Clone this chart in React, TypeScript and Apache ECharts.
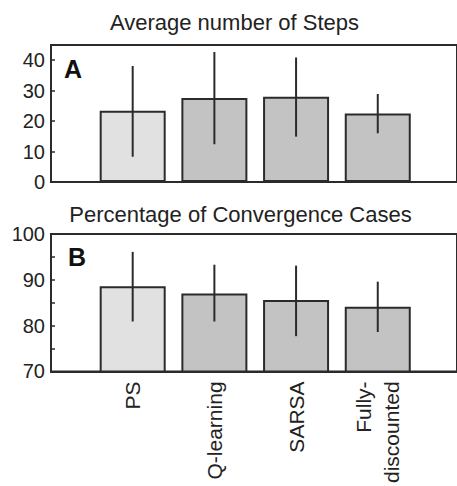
import React, { useEffect, useRef } from "react";
import * as echarts from "echarts";

const categories = ["PS", "Q-learning", "SARSA", "Fully-\ndiscounted"];
const stepsMean = [23.4, 27.6, 28.0, 22.5];
const stepsLow = [8.3, 12.4, 14.9, 16.0];
const stepsHigh = [38.1, 42.7, 40.9, 28.9];
const convMean = [88.6, 87.0, 85.6, 84.1];
const convLow = [80.9, 80.9, 77.7, 78.6];
const convHigh = [96.1, 93.3, 93.1, 89.6];
const barColors = ["#e1e1e1", "#c2c3c2", "#c2c3c2", "#c2c3c2"];

const FONT = "Liberation Sans";
const DARK = "#2b2b2b";

export default function App() {
  const ref = useRef<HTMLDivElement>(null);
  useEffect(() => {
    if (!ref.current) return;
    const chart = echarts.init(ref.current, null, { renderer: "svg" });

    const barData = (vals: number[]) =>
      vals.map((v, i) => ({
        value: [i + 1, v],
        itemStyle: { color: barColors[i], borderColor: DARK, borderWidth: 2 },
      }));
    const errData = (lo: number[], hi: number[]) => lo.map((l, i) => [i + 1, l, hi[i]]);
    const renderErr = (params: any, api: any) => {
      const a = api.coord([api.value(0), api.value(1)]);
      const b = api.coord([api.value(0), api.value(2)]);
      return {
        type: "line",
        shape: { x1: a[0], y1: a[1], x2: b[0], y2: b[1] },
        style: { stroke: DARK, lineWidth: 2 },
      };
    };

    const xAxisBase = (idx: number, showLabels: boolean) => ({
      type: "value",
      gridIndex: idx,
      min: 0,
      max: 4.97,
      interval: 1,
      axisLine: { show: true, onZero: false, lineStyle: { color: DARK, width: 2 } },
      axisTick: { show: false },
      splitLine: { show: false },
      axisLabel: {
        show: showLabels,
        rotate: 90,
        margin: 10,
        fontFamily: FONT,
        fontSize: 21,
        lineHeight: 28,
        color: "#222",
        formatter: (v: number) => (Number.isInteger(v) && v >= 1 && v <= categories.length ? categories[v - 1] : ""),
      },
    });

    const yLabel = {
      margin: 6,
      fontFamily: FONT,
      fontSize: 20,
      color: "#222",
      formatter: (v: number) => (v % 10 === 0 ? String(v) : ""),
    };

    const gridBase = { show: true, borderColor: DARK, borderWidth: 2, left: 51, right: -3, containLabel: false };

    chart.setOption({
      animation: false,
      graphic: [
        { type: "text", x: 234.5, y: 22, style: { text: "Average number of Steps", textAlign: "center", textVerticalAlign: "middle", font: `22px "${FONT}"`, fill: "#222" } },
        { type: "text", x: 240.5, y: 214, style: { text: "Percentage of Convergence Cases", textAlign: "center", textVerticalAlign: "middle", font: `22px "${FONT}"`, fill: "#222" } },
        { type: "text", x: 64, y: 68.5, z: 10, style: { text: "A", textAlign: "left", textVerticalAlign: "middle", font: `bold 25px "${FONT}"`, fill: "#111" } },
        { type: "text", x: 68, y: 256.5, z: 10, style: { text: "B", textAlign: "left", textVerticalAlign: "middle", font: `bold 25px "${FONT}"`, fill: "#111" } },
      ],
      grid: [
        { ...gridBase, top: 45, height: 137 },
        { ...gridBase, top: 234, height: 138 },
      ],
      xAxis: [xAxisBase(0, false), xAxisBase(1, true)],
      yAxis: [
        {
          type: "value",
          gridIndex: 0,
          min: 0,
          max: 45,
          interval: 10,
          axisLine: { show: true, lineStyle: { color: DARK, width: 2 } },
          axisTick: { show: true, inside: true, length: 4, lineStyle: { color: DARK, width: 1.5 } },
          splitLine: { show: false },
          axisLabel: { ...yLabel, showMaxLabel: false },
        },
        {
          type: "value",
          gridIndex: 1,
          min: 70,
          max: 100,
          interval: 5,
          axisLine: { show: true, lineStyle: { color: DARK, width: 2 } },
          axisTick: { show: true, inside: true, length: 4, lineStyle: { color: DARK, width: 1.5 } },
          splitLine: { show: false },
          axisLabel: yLabel,
        },
      ],
      series: [
        { type: "bar", xAxisIndex: 0, yAxisIndex: 0, barWidth: 66, data: barData(stepsMean), z: 2 },
        { type: "custom", xAxisIndex: 0, yAxisIndex: 0, renderItem: renderErr, data: errData(stepsLow, stepsHigh), z: 5, encode: { x: 0, y: [1, 2] } },
        { type: "bar", xAxisIndex: 1, yAxisIndex: 1, barWidth: 66, data: barData(convMean), z: 2 },
        { type: "custom", xAxisIndex: 1, yAxisIndex: 1, renderItem: renderErr, data: errData(convLow, convHigh), z: 5, encode: { x: 0, y: [1, 2] } },
      ],
    });
    return () => chart.dispose();
  }, []);
  return <div ref={ref} style={{ position: "absolute", left: 0, top: 0, width: 457, height: 486 }} />;
}
